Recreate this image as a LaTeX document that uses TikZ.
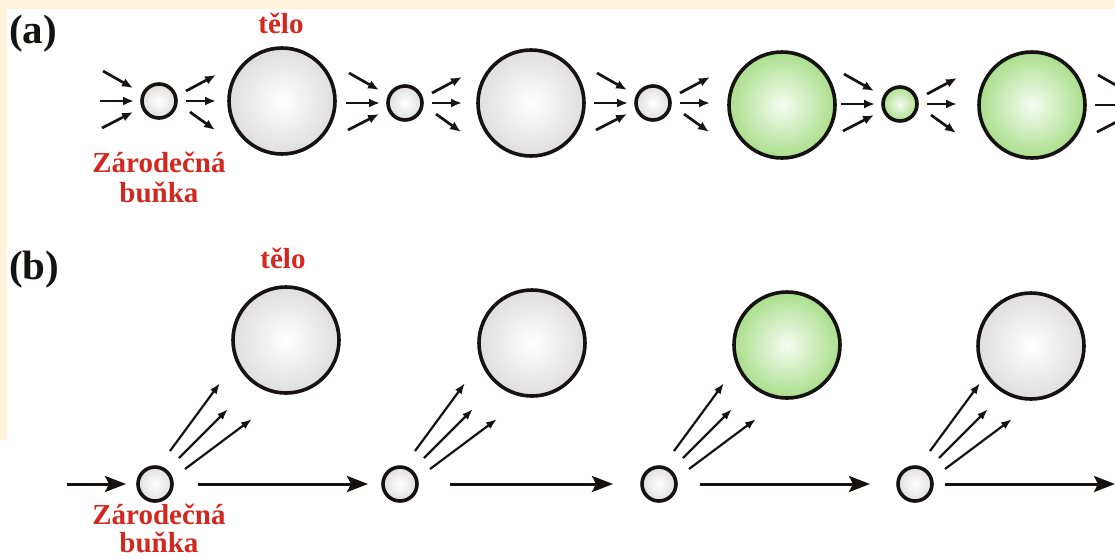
\documentclass[tikz,border=0pt]{standalone}
\usepackage{fontspec}
\setmainfont{Liberation Serif}
\usetikzlibrary{arrows.meta,calc}
\definecolor{cream}{RGB}{255,244,219}
\definecolor{labred}{RGB}{210,40,30}
\definecolor{ink}{RGB}{22,18,18}
\definecolor{grayedge}{RGB}{185,185,185}
\definecolor{graymid}{RGB}{222,222,222}
\definecolor{greenedge}{RGB}{116,194,76}
\definecolor{greenmid}{RGB}{170,222,140}
\definecolor{greencore}{RGB}{246,252,242}
\pgfdeclareradialshading{ballgray}{\pgfpoint{0bp}{0bp}}{color(0bp)=(white); color(25bp)=(graymid); color(50bp)=(grayedge)}
\pgfdeclareradialshading{ballgreen}{\pgfpoint{0bp}{0bp}}{color(0bp)=(greencore); color(25bp)=(greenmid); color(50bp)=(greenedge)}
\tikzset{
  ball/.style={circle, inner sep=0pt, draw=ink, line width=3.6pt, shade},
  grayball/.style={ball, shading=ballgray},
  greenball/.style={ball, shading=ballgreen},
  bigball/.style={minimum size=106pt},
  smallball/.style={minimum size=34pt},
  lab/.style={text=labred, font=\bfseries\fontsize{29}{31}\selectfont, inner sep=0pt, anchor=base},
  panel/.style={text=ink, font=\bfseries\fontsize{41}{43}\selectfont, inner sep=0pt, anchor=base west},
  aarrow/.style={draw=ink, line width=2.7pt, -{Latex[length=11pt,width=9pt]}},
  darrow/.style={draw=ink, line width=2.2pt, -{Latex[length=11pt,width=8pt]}},
  harrow/.style={draw=ink, line width=3pt, -{Stealth[length=21pt,width=16pt,inset=4pt]}}
}
\begin{document}
\begin{tikzpicture}[x=1pt,y=-1pt]
\useasboundingbox (0,0) rectangle (1115,558);
\clip (0,0) rectangle (1115,558);
\fill[white] (0,0) rectangle (1115,558);
\fill[cream] (0,0) rectangle (1115,9);
\fill[cream] (0,0) rectangle (7,440);

% ---------- panel (a) ----------
\node[panel] (pa) at (9,43) {(a)};
\node[grayball, smallball] (s1) at (159,101) {};
\node[grayball, bigball] (b1) at (282,101) {};
\node[grayball, smallball] (s2) at (405,103) {};
\node[grayball, bigball] (b2) at (531,103) {};
\node[grayball, smallball] (s3) at (653,103) {};
\node[greenball, bigball] (b3) at (782,105) {};
\node[greenball, smallball] (s4) at (900,104) {};
\node[greenball, bigball] (b4) at (1032,105) {};
\coordinate (s5) at (1154,105);

\foreach \s in {s1,s2,s3,s4,s5}{
  \draw[aarrow] ($(\s)+(-56,-30)$) -- ($(\s)+(-26,-13)$);
  \draw[aarrow] ($(\s)+(-59,0)$) -- ($(\s)+(-25,0)$);
  \draw[aarrow] ($(\s)+(-57,27)$) -- ($(\s)+(-26,11)$);
}
\foreach \s in {s1,s2,s3,s4}{
  \draw[aarrow] ($(\s)+(27,-10)$) -- ($(\s)+(57,-26)$);
  \draw[aarrow] ($(\s)+(27,0)$) -- ($(\s)+(57,0)$);
  \draw[aarrow] ($(\s)+(31,11)$) -- ($(\s)+(56,29)$);
}
\node[lab] (ta) at (281,33) {tělo};
\node[lab] (za) at (159,172) {Zárodečná};
\node[lab] (ba) at (159,202) {buňka};

% ---------- panel (b) ----------
\node[panel] (pb) at (9,279) {(b)};
\node[grayball, smallball] (p1) at (155,484) {};
\node[grayball, smallball] (p2) at (400,484) {};
\node[grayball, smallball] (p3) at (659,484) {};
\node[grayball, smallball] (p4) at (915,484) {};
\node[grayball, bigball] (q1) at (286,340) {};
\node[grayball, bigball] (q2) at (532,343) {};
\node[greenball, bigball] (q3) at (787,345) {};
\node[grayball, bigball] (q4) at (1031,346) {};

\foreach \p in {p1,p2,p3,p4}{
  \draw[darrow] ($(\p)+(15,-33)$) -- ($(\p)+(65,-101)$);
  \draw[darrow] ($(\p)+(24,-26)$) -- ($(\p)+(73,-75)$);
  \draw[darrow] ($(\p)+(30,-15)$) -- ($(\p)+(97,-65)$);
}
\coordinate (pin) at (67,484);
\coordinate (pend) at (1115,484);
\draw[harrow] (pin) -- ($(p1)+(-29,0)$);
\draw[harrow] ($(p1)+(43,0)$) -- ($(p2)+(-32,0)$);
\draw[harrow] ($(p2)+(50,0)$) -- ($(p3)+(-46,0)$);
\draw[harrow] ($(p3)+(41,0)$) -- ($(p4)+(-45,0)$);
\draw[harrow] ($(p4)+(30,0)$) -- (pend);

\node[lab] (tb) at (283,268) {tělo};
\node[lab] (zb) at (159,524) {Zárodečná};
\node[lab] (bb) at (159,552) {buňka};
\end{tikzpicture}
\end{document}
